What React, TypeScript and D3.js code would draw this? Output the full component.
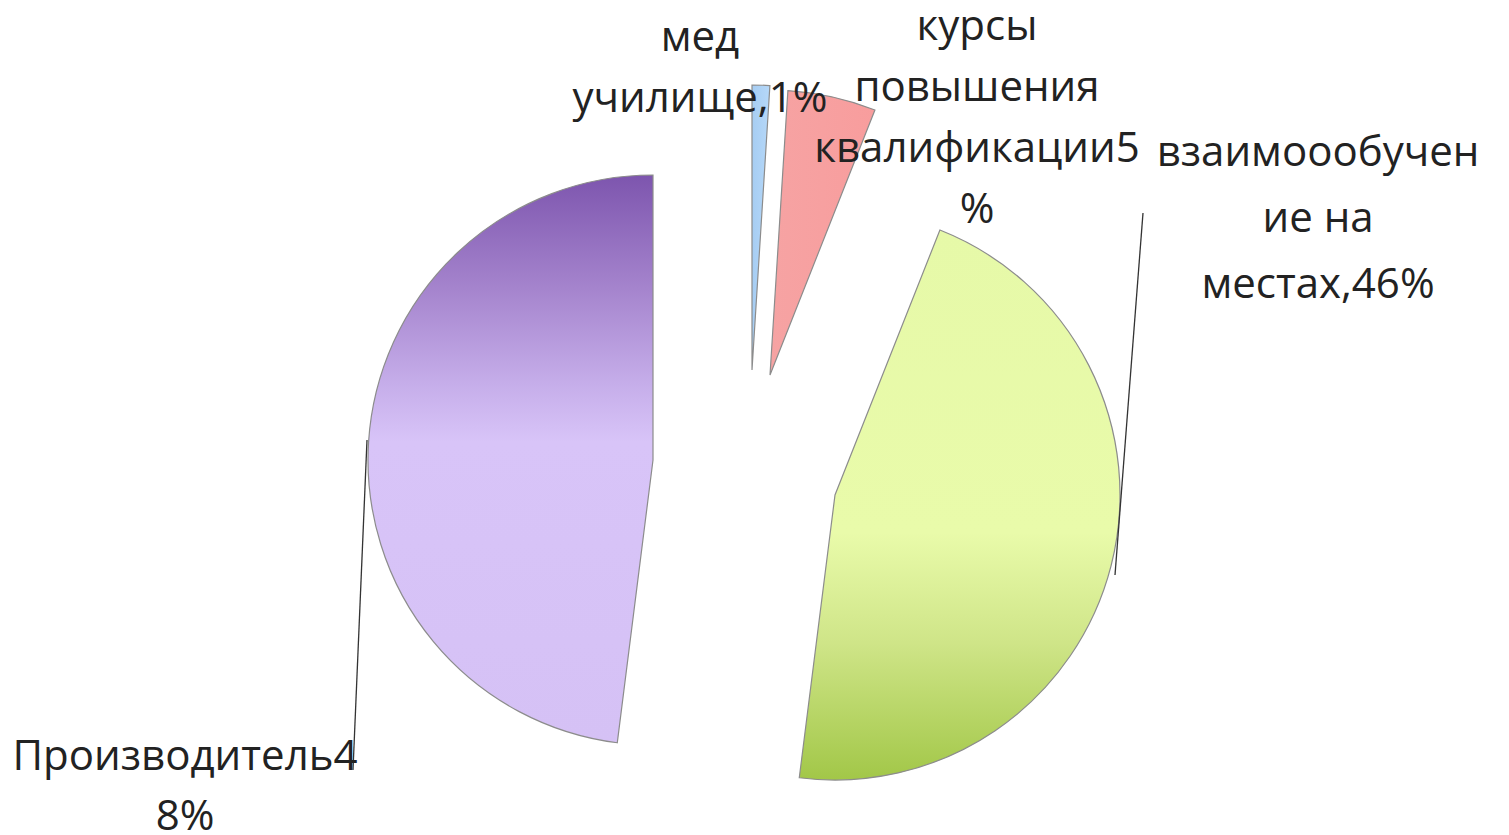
import React from "react";
import * as d3 from "d3";

// ---- data ----
const categories = [
  "мед училище",
  "курсы повышения квалификации",
  "взаимоообучение на местах",
  "Производитель",
];
const values = [1, 5, 46, 48];
const labelLines = [
  ["мед", "училище,1%"],
  ["курсы", "повышения", "квалификации5", "%"],
  ["взаимоообучен", "ие на", "местах,46%"],
  ["Производитель4", "8%"],
];

// ---- layout / style ----
const W = 1509;
const H = 835;
const CX = 714;
const CY = 464;
const R = 285;
const explode: [number, number][] = [
  [38, -94],
  [56, -89],
  [121, 31],
  [-61, -4],
];
const labelAnchor: [number, number][] = [
  [700, 51],
  [977, 40],
  [1318, 166],
  [185, 770],
];
const labelLineHeight = [61, 61, 66, 60];
const leaderLines: ([number, number][] | null)[] = [
  null,
  null,
  [
    [1143, 213],
    [1115, 575],
  ],
  [
    [367, 440],
    [353, 770],
  ],
];
const fills = ["url(#gBlue)", "url(#gRed)", "url(#gGreen)", "url(#gPurple)"];

export default function App() {
  const pie = d3
    .pie<number>()
    .sort(null)
    .startAngle(0)
    .endAngle(2 * Math.PI)
    .value((d) => d);
  const arcs = pie(values);
  const arcGen = d3.arc<d3.PieArcDatum<number>>().innerRadius(0).outerRadius(R);
  const line = d3.line();

  return (
    <svg
      width={W}
      height={H}
      style={{ position: "absolute", left: 0, top: 0, background: "#fff" }}
    >
      <defs>
        <linearGradient id="gPurple" x1="0" y1="0" x2="0" y2="1">
          <stop offset="0" stopColor="#7d55ae" />
          <stop offset="0.2" stopColor="#a584cd" />
          <stop offset="0.37" stopColor="#c6aeea" />
          <stop offset="0.47" stopColor="#d8c4f8" />
          <stop offset="1" stopColor="#d5c1f5" />
        </linearGradient>
        <linearGradient id="gGreen" x1="0" y1="0" x2="0" y2="1">
          <stop offset="0" stopColor="#e6f9a8" />
          <stop offset="0.55" stopColor="#e9fbaa" />
          <stop offset="0.75" stopColor="#cfe588" />
          <stop offset="1" stopColor="#a2c748" />
        </linearGradient>
        <linearGradient id="gBlue" x1="0" y1="0" x2="1" y2="0">
          <stop offset="0" stopColor="#a6cdf3" />
          <stop offset="1" stopColor="#b6d8f8" />
        </linearGradient>
        <linearGradient id="gRed" x1="0" y1="0" x2="1" y2="0">
          <stop offset="0" stopColor="#f6a3a3" />
          <stop offset="1" stopColor="#f89d9d" />
        </linearGradient>
      </defs>
      {arcs.map((a, i) => (
        <path
          key={categories[i]}
          d={arcGen(a) || ""}
          transform={`translate(${CX + explode[i][0]},${CY + explode[i][1]})`}
          fill={fills[i]}
          stroke="#8c8c8c"
          strokeWidth={1.2}
        />
      ))}
      {leaderLines.map((pts, i) =>
        pts ? (
          <path key={"l" + i} d={line(pts) || ""} stroke="#333" strokeWidth={1.3} fill="none" />
        ) : null
      )}
      {labelLines.map((lines, i) => (
        <text
          key={"t" + i}
          x={labelAnchor[i][0]}
          y={labelAnchor[i][1]}
          textAnchor="middle"
          fontFamily="'Open Sans', sans-serif"
          fontSize={42}
          fill="#222"
        >
          {lines.map((s, j) => (
            <tspan key={j} x={labelAnchor[i][0]} dy={j === 0 ? 0 : labelLineHeight[i]}>
              {s}
            </tspan>
          ))}
        </text>
      ))}
    </svg>
  );
}
